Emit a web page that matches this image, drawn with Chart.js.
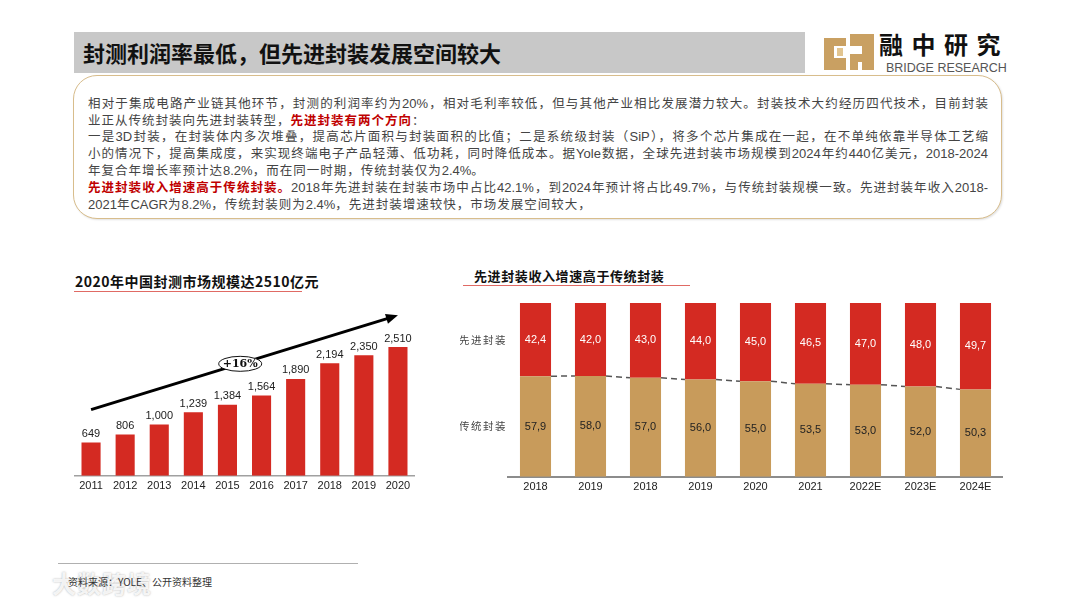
<!DOCTYPE html>
<html lang="zh-CN">
<head>
<meta charset="utf-8">
<title>封测利润率最低，但先进封装发展空间较大</title>
<script src="https://cdn.jsdelivr.net/npm/chart.js@4.4.1/dist/chart.umd.min.js"></script>
<style>
  html, body { margin: 0; padding: 0; background: #fff; }
  body { width: 1080px; height: 608px; position: relative; overflow: hidden;
         font-family: "Noto Sans CJK SC", "Liberation Sans", sans-serif; }
  .abs { position: absolute; }
  #title-bar { left: 74px; top: 32px; width: 731px; height: 41px; background: #c8c8c8; }
  #title-bar span { position: absolute; left: 9px; top: 0; line-height: 41px; font-size: 22px;
                    font-weight: 700; color: #111; white-space: nowrap; }
  #brand-cn { left: 879px; top: 30px; font-size: 24px; font-weight: 700; letter-spacing: 8.5px;
              color: #111; line-height: 28px; white-space: nowrap; }
  #brand-en { left: 886px; top: 61px; font-family: "Liberation Sans", sans-serif; font-size: 12.5px;
              color: #555; line-height: 14px; white-space: nowrap; }
  #note { left: 73px; top: 75px; width: 927px; height: 142px; border: 1px solid #d8bd8c;
          border-radius: 24px; box-shadow: 1px 1px 2px rgba(0,0,0,0.12); background: #fff; }
  #note-text { position: absolute; left: 14px; top: 19px; width: 900px; font-size: 12.5px;
               color: #444; line-height: 16px; }
  #note-text div { white-space: nowrap; letter-spacing: 1px; }
  #note-text div.full { text-align: justify; text-align-last: justify; letter-spacing: 0; }
  #note-text .lat { font-family: "Liberation Sans", sans-serif; font-size: 13px; letter-spacing: 0; }
  #note-text b { color: #c00000; font-weight: 700; }
  .chart-title { font-weight: 700; color: #111; white-space: nowrap; }
  #left-title { left: 75px; top: 271px; font-size: 14px; letter-spacing: 0.5px; line-height: 20px; }
  #right-title { left: 474px; top: 266px; font-size: 13px; letter-spacing: 0.6px; line-height: 19px; }
  .rule { height: 1px; background: #e06a64; }
  #left-rule { left: 74px; top: 291px; width: 228px; }
  #right-rule { left: 463px; top: 285px; width: 227px; }
  #source-rule { left: 58px; top: 563px; width: 300px; height: 1px; background: #b0b0b0; }
  #source { left: 68px; top: 575px; font-size: 10px; color: #333; line-height: 13px; white-space: nowrap; }
  #watermark { left: 52px; top: 568px; font-size: 24px; font-weight: 700; color: rgba(255,255,255,0.85);
               text-shadow: 0 0 2px rgba(120,120,120,0.6); letter-spacing: 1px; line-height: 30px; }
  canvas { position: absolute; }
  #sizeChart { left: 74px; top: 300px; }
  #shareChart { left: 460px; top: 290px; }
</style>
</head>
<body>

<div id="title-bar" class="abs"><span>封测利润率最低，但先进封装发展空间较大</span></div>

<svg class="abs" style="left:822px;top:32px" width="54" height="40" viewBox="0 0 54 40">
  <path d="M2 6 H24 V14 H12 V26 H24 V38 H2 Z" fill="#c9a062"/>
  <path d="M28 2 H52 V38 H40 V30 H36 V38 H28 V22 H40 V14 H28 Z" fill="#c9a062"/>
  <rect x="15" y="16" width="6" height="8" fill="#e2c590"/>
</svg>
<div id="brand-cn" class="abs">融中研究</div>
<div id="brand-en" class="abs">BRIDGE RESEARCH</div>

<div id="note" class="abs">
  <div id="note-text">
    <div class="full">相对于集成电路产业链其他环节，封测的利润率约为<span class="lat">20%</span>，相对毛利率较低，但与其他产业相比发展潜力较大。封装技术大约经历四代技术，目前封装</div>
    <div>业正从传统封装向先进封装转型，<b>先进封装有两个方向</b>：</div>
    <div class="full">一是<span class="lat">3D</span>封装，在封装体内多次堆叠，提高芯片面积与封装面积的比值；二是系统级封装（<span class="lat">SiP</span>），将多个芯片集成在一起，在不单纯依靠半导体工艺缩</div>
    <div class="full">小的情况下，提高集成度，来实现终端电子产品轻薄、低功耗，同时降低成本。据<span class="lat">Yole</span>数据，全球先进封装市场规模到<span class="lat">2024</span>年约<span class="lat">440</span>亿美元，<span class="lat">2018-2024</span></div>
    <div>年复合年增长率预计达<span class="lat">8.2%</span>，而在同一时期，传统封装仅为<span class="lat">2.4%</span>。</div>
    <div class="full"><b>先进封装收入增速高于传统封装。</b><span class="lat">2018</span>年先进封装在封装市场中占比<span class="lat">42.1%</span>，到<span class="lat">2024</span>年预计将占比<span class="lat">49.7%</span>，与传统封装规模一致。先进封装年收入<span class="lat">2018-</span></div>
    <div><span class="lat">2021</span>年<span class="lat">CAGR</span>为<span class="lat">8.2%</span>，传统封装则为<span class="lat">2.4%</span>，先进封装增速较快，市场发展空间较大，</div>
  </div>
</div>

<div id="left-title" class="abs chart-title">2020年中国封测市场规模达2510亿元</div>
<div id="left-rule" class="abs rule"></div>
<div id="right-title" class="abs chart-title">先进封装收入增速高于传统封装</div>
<div id="right-rule" class="abs rule"></div>

<canvas id="sizeChart" width="341" height="197" style="width:341px;height:197px"></canvas>
<canvas id="shareChart" width="543" height="208" style="width:543px;height:208px"></canvas>

<div id="source-rule" class="abs"></div>
<div id="watermark" class="abs">大数跨境</div>
<div id="source" class="abs">资料来源：YOLE、公开资料整理</div>

<script>
// 左图：中国封测市场规模（亿元）
const years = ['2011', '2012', '2013', '2014', '2015', '2016', '2017', '2018', '2019', '2020'];
const marketSize = [649, 806, 1000, 1239, 1384, 1564, 1890, 2194, 2350, 2510];
const growthLabel = '+16%';
// 趋势箭头起止（数值坐标）
const trendFrom = 1290;
const trendTo = 3130;

// 右图：先进封装 / 传统封装占比（%）
const shareYears = ['2018', '2019', '2018', '2019', '2020', '2021', '2022E', '2023E', '2024E'];
const advancedShare = [42.4, 42.0, 43.0, 44.0, 45.0, 46.5, 47.0, 48.0, 49.7];
const traditionalShare = [57.9, 58.0, 57.0, 56.0, 55.0, 53.5, 53.0, 52.0, 50.3];
const seriesNames = ['传统封装', '先进封装'];

const RED = '#d42a22';
const TAN = '#c89b5b';
const NUM_FONT = '11px "Liberation Sans", Arial, sans-serif';

// 柱顶数值 + 趋势箭头
const sizeLabelsPlugin = {
    id: 'sizeLabels',
    afterDatasetsDraw(chart) {
        const ctx = chart.ctx;
        const meta = chart.getDatasetMeta(0);
        ctx.save();
        ctx.font = NUM_FONT;
        ctx.fillStyle = '#222';
        ctx.textAlign = 'center';
        ctx.textBaseline = 'bottom';
        meta.data.forEach(function(bar, i) {
            ctx.fillText(marketSize[i].toLocaleString('en-US'), bar.x, bar.y - 3);
        });

        const xs = chart.scales.x;
        const ys = chart.scales.y;
        const x0 = xs.getPixelForValue(0);
        const x1 = xs.getPixelForValue(years.length - 1);
        const y0 = ys.getPixelForValue(trendFrom);
        const y1 = ys.getPixelForValue(trendTo);
        const ang = Math.atan2(y1 - y0, x1 - x0);

        ctx.strokeStyle = '#000';
        ctx.lineWidth = 3;
        ctx.beginPath();
        ctx.moveTo(x0, y0);
        ctx.lineTo(x1 - 8 * Math.cos(ang), y1 - 8 * Math.sin(ang));
        ctx.stroke();

        ctx.fillStyle = '#000';
        ctx.beginPath();
        ctx.moveTo(x1, y1);
        ctx.lineTo(x1 - 12 * Math.cos(ang) + 5 * Math.sin(ang), y1 - 12 * Math.sin(ang) - 5 * Math.cos(ang));
        ctx.lineTo(x1 - 12 * Math.cos(ang) - 5 * Math.sin(ang), y1 - 12 * Math.sin(ang) + 5 * Math.cos(ang));
        ctx.closePath();
        ctx.fill();

        // 增长率椭圆
        const t = 0.486;
        const cx = x0 + t * (x1 - x0);
        const cy = y0 + t * (y1 - y0);
        ctx.beginPath();
        ctx.ellipse(cx, cy, 21.5, 7.5, 0, 0, Math.PI * 2);
        ctx.fillStyle = '#fff';
        ctx.fill();
        ctx.lineWidth = 1;
        ctx.strokeStyle = '#111';
        ctx.stroke();
        ctx.fillStyle = '#111';
        ctx.font = 'bold 11px "DejaVu Serif", "Liberation Serif", serif';
        ctx.textBaseline = 'middle';
        ctx.fillText(growthLabel, cx, cy + 0.5);
        ctx.restore();
    }
};

new Chart(document.getElementById('sizeChart'), {
    type: 'bar',
    data: {
        labels: years,
        datasets: [{
            data: marketSize,
            backgroundColor: RED,
            barPercentage: 0.56,
            categoryPercentage: 1
        }]
    },
    options: {
        responsive: false,
        animation: false,
        devicePixelRatio: 1,
        layout: { padding: { top: 22, left: 0, right: 0, bottom: 0 } },
        plugins: { legend: { display: false }, tooltip: { enabled: false } },
        scales: {
            x: {
                grid: { display: false, drawTicks: false },
                border: { display: true, color: '#a0a0a0', width: 1.5 },
                ticks: { color: '#222', font: { family: '"Liberation Sans", Arial, sans-serif', size: 11 }, padding: 4 }
            },
            y: { display: false, min: 0, max: 3000 }
        }
    },
    plugins: [sizeLabelsPlugin]
});

// 分段数值、系列名与虚线
const shareLabelsPlugin = {
    id: 'shareLabels',
    afterDatasetsDraw(chart) {
        const ctx = chart.ctx;
        const low = chart.getDatasetMeta(0).data;
        const high = chart.getDatasetMeta(1).data;
        const top = chart.chartArea.top;
        ctx.save();

        ctx.strokeStyle = '#555';
        ctx.lineWidth = 1.5;
        ctx.setLineDash([6, 4]);
        for (let i = 0; i < low.length - 1; i++) {
            const a = low[i], b = low[i + 1];
            ctx.beginPath();
            ctx.moveTo(a.x + a.width / 2, a.y);
            ctx.lineTo(b.x - b.width / 2, b.y);
            ctx.stroke();
        }
        ctx.setLineDash([]);

        ctx.font = NUM_FONT;
        ctx.textAlign = 'center';
        ctx.textBaseline = 'middle';
        low.forEach(function(bar, i) {
            ctx.fillStyle = '#222';
            ctx.fillText(traditionalShare[i].toFixed(1).replace('.', ','), bar.x, (bar.y + bar.base) / 2);
            const hb = high[i];
            ctx.fillStyle = '#fff';
            ctx.fillText(advancedShare[i].toFixed(1).replace('.', ','), hb.x, (Math.max(hb.y, top) + hb.base) / 2);
        });

        ctx.fillStyle = '#444';
        ctx.font = '10.5px "Noto Sans CJK SC", sans-serif';
        ctx.textAlign = 'right';
        if (ctx.letterSpacing !== undefined) ctx.letterSpacing = '1.5px';
        const lx = chart.chartArea.left - 1;
        ctx.fillText(seriesNames[1], lx, (Math.max(high[0].y, top) + high[0].base) / 2);
        ctx.fillText(seriesNames[0], lx, (low[0].y + low[0].base) / 2);
        ctx.restore();
    }
};

new Chart(document.getElementById('shareChart'), {
    type: 'bar',
    data: {
        labels: shareYears,
        datasets: [{
            label: seriesNames[0],
            data: traditionalShare,
            backgroundColor: TAN,
            barPercentage: 0.565,
            categoryPercentage: 1
        }, {
            label: seriesNames[1],
            data: advancedShare,
            backgroundColor: RED,
            barPercentage: 0.565,
            categoryPercentage: 1
        }]
    },
    options: {
        responsive: false,
        animation: false,
        devicePixelRatio: 1,
        layout: { padding: { top: 13, left: 48, right: 0, bottom: 0 } },
        plugins: { legend: { display: false }, tooltip: { enabled: false } },
        scales: {
            x: {
                stacked: true,
                grid: { display: false, drawTicks: false },
                border: { display: true, color: '#8c8c8c', width: 2 },
                ticks: { color: '#222', font: { family: '"Liberation Sans", Arial, sans-serif', size: 11 }, padding: 4 }
            },
            y: { stacked: true, display: false, min: 0, max: 100 }
        }
    },
    plugins: [shareLabelsPlugin]
});
</script>
</body>
</html>
